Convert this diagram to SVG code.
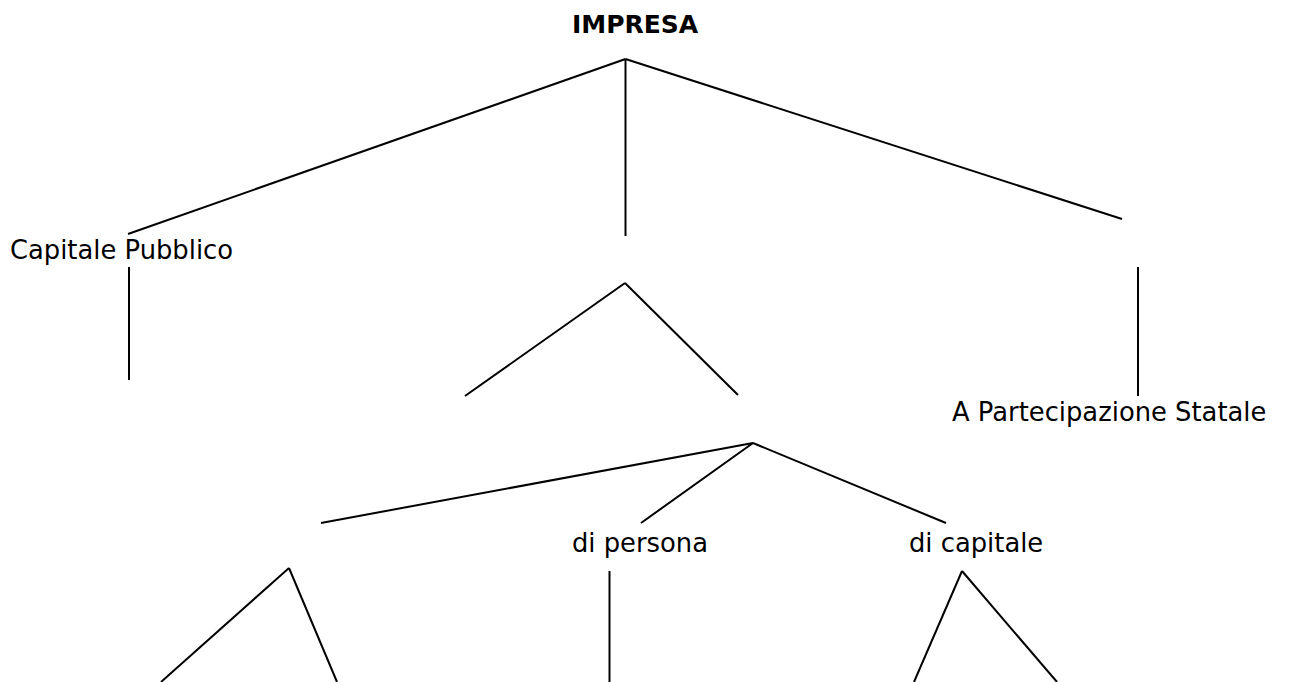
<svg xmlns="http://www.w3.org/2000/svg" width="1289" height="682" viewBox="0 0 1289 682">
<style>
  .t { font-family: "DejaVu Sans", Verdana, sans-serif; font-size: 25.8px; fill: #000; }
  .b { font-weight: bold; font-size: 25px; }
  #connectors line { stroke: #000; stroke-width: 2; stroke-linecap: butt; }
</style>
<rect width="1289" height="682" fill="#fff"/>
<g id="connectors">
  <line x1="625.5" y1="59" x2="128" y2="234"/>
  <line x1="625.5" y1="59" x2="625.5" y2="236"/>
  <line x1="625.5" y1="59" x2="1122" y2="219"/>
  <line x1="129" y1="267" x2="129" y2="380"/>
  <line x1="1138" y1="267" x2="1138" y2="396"/>
  <line x1="625" y1="283" x2="465" y2="396"/>
  <line x1="625" y1="283" x2="738" y2="395"/>
  <line x1="753" y1="443" x2="321" y2="523"/>
  <line x1="753" y1="443" x2="641" y2="523"/>
  <line x1="753" y1="443" x2="946" y2="523"/>
  <line x1="289" y1="568" x2="161" y2="682"/>
  <line x1="289" y1="568" x2="337" y2="682"/>
  <line x1="609.5" y1="571" x2="609.5" y2="682"/>
  <line x1="962" y1="571" x2="914" y2="682"/>
  <line x1="962" y1="571" x2="1057" y2="682"/>
</g>
<g id="node-impresa"><text class="t b" x="572" y="33">IMPRESA</text></g>
<g id="node-capitale-pubblico"><text class="t" x="10" y="259">Capitale Pubblico</text></g>
<g id="node-partecipazione-statale"><text class="t" x="952" y="421">A Partecipazione Statale</text></g>
<g id="node-di-persona"><text class="t" x="572" y="552">di persona</text></g>
<g id="node-di-capitale"><text class="t" x="909" y="552">di capitale</text></g>
</svg>
